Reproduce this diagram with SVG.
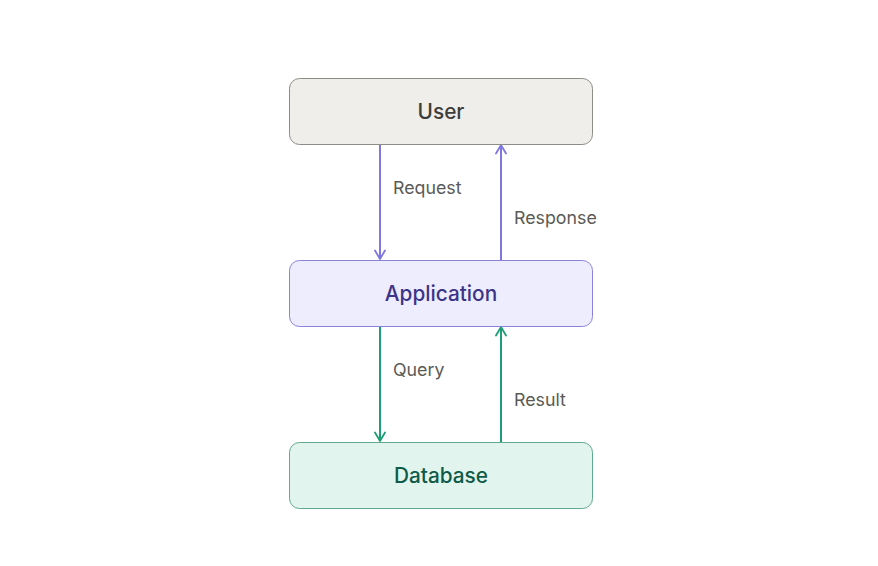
<svg xmlns="http://www.w3.org/2000/svg" width="878" height="566" viewBox="0 0 878 566">
<style>
.node-t{font-family:Inter,"Noto Sans",sans-serif;font-size:20.8px;font-weight:500;text-anchor:middle;dominant-baseline:central}
.lbl{font-family:Inter,"Noto Sans",sans-serif;font-size:17.8px;fill:#5a5a56;dominant-baseline:central}
.p{stroke:#7f77dd;stroke-width:2;fill:none}
.g{stroke:#1d9e75;stroke-width:2;fill:none}
</style>
<defs>
<marker id="ap" viewBox="0 0 12 12" refX="10" refY="6" markerWidth="12" markerHeight="12" markerUnits="userSpaceOnUse" orient="auto-start-reverse">
<path d="M1.5,1 L10,6 L1.5,11" fill="none" stroke="#7f77dd" stroke-width="1.8" stroke-linecap="round" stroke-linejoin="round"/>
</marker>
<marker id="ag" viewBox="0 0 12 12" refX="10" refY="6" markerWidth="12" markerHeight="12" markerUnits="userSpaceOnUse" orient="auto-start-reverse">
<path d="M1.5,1 L10,6 L1.5,11" fill="none" stroke="#1d9e75" stroke-width="1.8" stroke-linecap="round" stroke-linejoin="round"/>
</marker>
</defs>
<rect width="878" height="566" fill="#ffffff"/>
<g id="connectors">
<line class="p" x1="380" y1="145" x2="380" y2="259" marker-end="url(#ap)"/>
<line class="p" x1="501" y1="260" x2="501" y2="145" marker-end="url(#ap)"/>
<line class="g" x1="380" y1="327" x2="380" y2="441" marker-end="url(#ag)"/>
<line class="g" x1="501" y1="442" x2="501" y2="327" marker-end="url(#ag)"/>
<text class="lbl" x="393" y="187">Request</text>
<text class="lbl" x="514" y="217">Response</text>
<text class="lbl" x="393" y="369">Query</text>
<text class="lbl" x="514" y="399">Result</text>
</g>
<g id="user">
<rect x="289.5" y="78.5" width="303" height="66" rx="10" fill="#efeeea" stroke="#8d8c86" stroke-width="1"/>
<text class="node-t" x="441" y="111.5" fill="#3d3d3a">User</text>
</g>
<g id="application">
<rect x="289.5" y="260.5" width="303" height="66" rx="10" fill="#eeedfe" stroke="#8a82d8" stroke-width="1"/>
<text class="node-t" x="441" y="293.5" fill="#3c3489">Application</text>
</g>
<g id="database">
<rect x="289.5" y="442.5" width="303" height="66" rx="10" fill="#e1f5ee" stroke="#5fa98c" stroke-width="1"/>
<text class="node-t" x="441" y="475.5" fill="#0f5a48">Database</text>
</g>
</svg>
